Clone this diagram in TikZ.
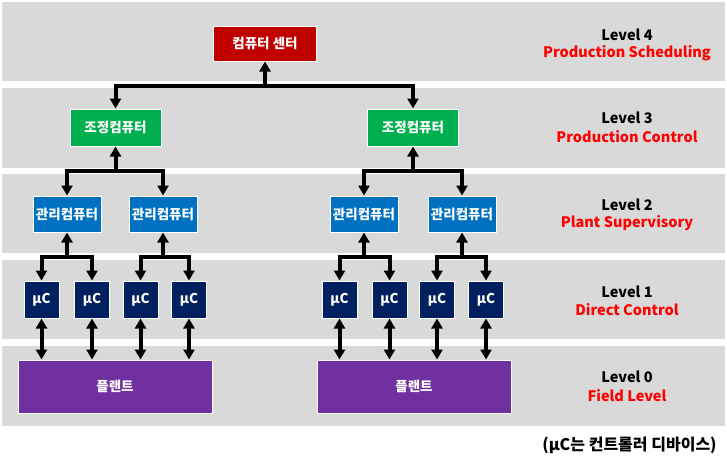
\documentclass[tikz,border=0pt]{standalone}
\usepackage{fontspec}
\setmainfont{Noto Sans CJK KR}
\usetikzlibrary{arrows.meta}
\definecolor{band}{HTML}{D9D9D9}
\definecolor{ccred}{HTML}{C00000}
\definecolor{ctlgreen}{HTML}{00B050}
\definecolor{supblue}{HTML}{0070C0}
\definecolor{mcnavy}{HTML}{002060}
\definecolor{plantpurple}{HTML}{7030A0}
\definecolor{lvred}{HTML}{FF0000}
\begin{document}
\begin{tikzpicture}[x=1pt,y=-1pt,
  bandbox/.style={fill=band,draw=none},
  boxbase/.style={draw=white,line width=1pt,inner sep=0pt,text=white,font=\bfseries\fontsize{13.5}{15}\selectfont},
  ccbox/.style={boxbase,fill=ccred,minimum width=103pt,minimum height=35pt},
  ctlbox/.style={boxbase,fill=ctlgreen,minimum width=91pt,minimum height=37pt},
  supbox/.style={boxbase,fill=supblue,minimum width=68pt,minimum height=36pt},
  mcbox/.style={boxbase,fill=mcnavy,minimum width=35pt,minimum height=37pt},
  plantbox/.style={boxbase,fill=plantpurple,minimum width=194pt,minimum height=53pt},
  conn/.style={line width=4pt,draw=black},
  arr/.style={conn,-{Triangle[width=11pt,length=10pt]}},
  dblarr/.style={conn,{Triangle[width=11pt,length=10pt]}-{Triangle[width=11pt,length=10pt]}},
  lvtitle/.style={font=\bfseries\fontsize{14.5}{17}\selectfont,text=black,inner sep=0pt},
  lvname/.style={font=\bfseries\fontsize{14.5}{17}\selectfont,text=lvred,inner sep=0pt},
  note/.style={font=\bfseries\fontsize{16}{18}\selectfont,text=black,inner sep=0pt}
]
\useasboundingbox (0,0) rectangle (727,463);
\fill[white] (0,0) rectangle (727,463);
% bands
\fill[bandbox] (2,2) rectangle (725,81);
\fill[bandbox] (2,88) rectangle (725,168);
\fill[bandbox] (2,174) rectangle (725,253);
\fill[bandbox] (2,260) rectangle (725,339);
\fill[bandbox] (2,346) rectangle (725,426);
% nodes
\node[ccbox] (cc) at (265,43.5) {컴퓨터 센터};
\node[ctlbox] (c1) at (115.5,127.5) {조정컴퓨터};
\node[ctlbox] (c2) at (413,127.5) {조정컴퓨터};
\node[supbox] (s1) at (67,214) {관리컴퓨터};
\node[supbox] (s2) at (163,214) {관리컴퓨터};
\node[supbox] (s3) at (364,214) {관리컴퓨터};
\node[supbox] (s4) at (462,214) {관리컴퓨터};
\node[mcbox] (m1) at (41.5,299.5) {μC};
\node[mcbox] (m2) at (92,299.5) {μC};
\node[mcbox] (m3) at (140.5,299.5) {μC};
\node[mcbox] (m4) at (189,299.5) {μC};
\node[mcbox] (m5) at (339.5,299.5) {μC};
\node[mcbox] (m6) at (389.5,299.5) {μC};
\node[mcbox] (m7) at (437,299.5) {μC};
\node[mcbox] (m8) at (486,299.5) {μC};
\node[plantbox] (p1) at (115,386.5) {플랜트};
\node[plantbox] (p2) at (414,386.5) {플랜트};
% junctions
\coordinate (j4) at (cc.south |- 0,86);
\coordinate (j31) at (c1.south |- 0,171);
\coordinate (j32) at (c2.south |- 0,171);
\coordinate (j21) at (s1.south |- 0,257);
\coordinate (j22) at (s2.south |- 0,257);
\coordinate (j23) at (s3.south |- 0,257);
\coordinate (j24) at (s4.south |- 0,257);
% level 4-3
\draw[arr] (j4) -- (cc.south);
\draw[arr] (j4) -| (c1.north);
\draw[arr] (j4) -| (c2.north);
% level 3-2
\draw[arr] (j31) -- (c1.south);
\draw[arr] (j31) -| (s1.north);
\draw[arr] (j31) -| (s2.north);
\draw[arr] (j32) -- (c2.south);
\draw[arr] (j32) -| (s3.north);
\draw[arr] (j32) -| (s4.north);
% level 2-1
\draw[arr] (j21) -- (s1.south);
\draw[arr] (j21) -| (m1.north);
\draw[arr] (j21) -| (m2.north);
\draw[arr] (j22) -- (s2.south);
\draw[arr] (j22) -| (m3.north);
\draw[arr] (j22) -| (m4.north);
\draw[arr] (j23) -- (s3.south);
\draw[arr] (j23) -| (m5.north);
\draw[arr] (j23) -| (m6.north);
\draw[arr] (j24) -- (s4.south);
\draw[arr] (j24) -| (m7.north);
\draw[arr] (j24) -| (m8.north);
% level 1-0
\draw[dblarr] (m1.south) -- (m1.south |- p1.north);
\draw[dblarr] (m2.south) -- (m2.south |- p1.north);
\draw[dblarr] (m3.south) -- (m3.south |- p1.north);
\draw[dblarr] (m4.south) -- (m4.south |- p1.north);
\draw[dblarr] (m5.south) -- (m5.south |- p2.north);
\draw[dblarr] (m6.south) -- (m6.south |- p2.north);
\draw[dblarr] (m7.south) -- (m7.south |- p2.north);
\draw[dblarr] (m8.south) -- (m8.south |- p2.north);
% level labels
\node[lvtitle] (l4a) at (627,35) {Level 4};
\node[lvname] (l4b) at (627,53) {Production Scheduling};
\node[lvtitle] (l3a) at (627,118) {Level 3};
\node[lvname] (l3b) at (627,137) {Production Control};
\node[lvtitle] (l2a) at (627,205) {Level 2};
\node[lvname] (l2b) at (627,223) {Plant Supervisory};
\node[lvtitle] (l1a) at (627,292) {Level 1};
\node[lvname] (l1b) at (627,310) {Direct Control};
\node[lvtitle] (l0a) at (627,377) {Level 0};
\node[lvname] (l0b) at (627,396) {Field Level};
\node[note] (nt) at (629.5,445) {(μC는 컨트롤러 디바이스)};
\end{tikzpicture}
\end{document}
